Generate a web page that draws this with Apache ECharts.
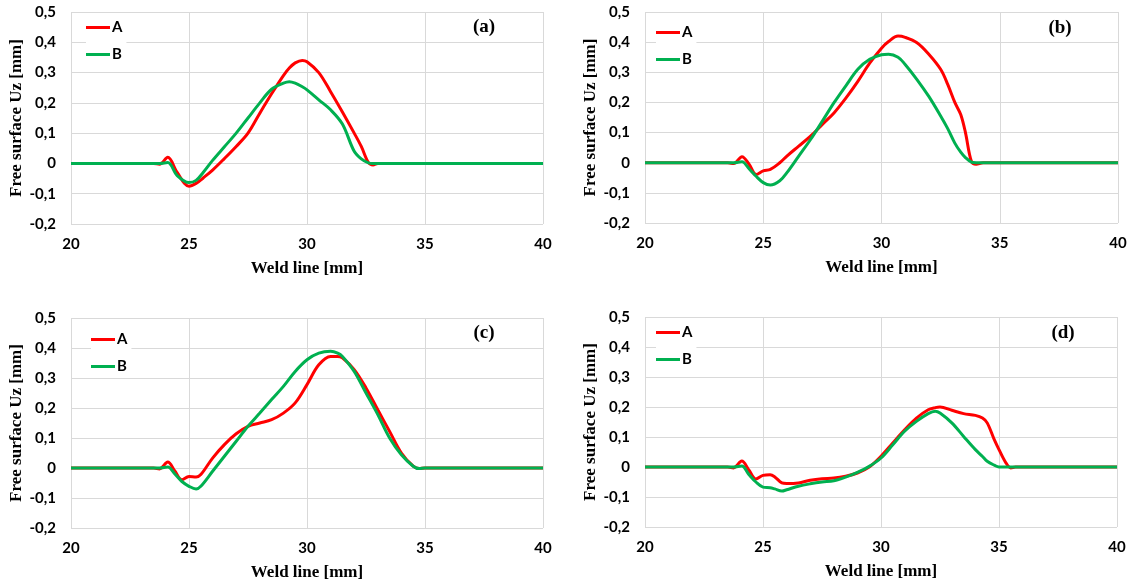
<!DOCTYPE html>
<html>
<head>
<meta charset="utf-8">
<script src="https://cdn.jsdelivr.net/npm/echarts@6/dist/echarts.min.js"></script>
<style>
  html, body { margin: 0; padding: 0; background: #fff; }
  #chart { width: 1135px; height: 584px; }
</style>
</head>
<body>
<div id="chart"></div>
<script>
// x ticks / y ticks
var xTicks = [20, 25, 30, 35, 40];
var yTicks = [-0.2, -0.1, 0, 0.1, 0.2, 0.3, 0.4, 0.5];

// panel (a)
var xA = [20, 23.5, 23.75, 24.1, 24.5, 25, 25.3, 25.6, 26, 26.5, 27, 27.5, 28, 28.5, 29, 29.25, 29.5, 29.8, 30, 30.5, 31, 31.5, 32, 32.3, 32.6, 32.8, 33, 40];
var aA = [0, 0, -0.003, 0.02, -0.03, -0.075, -0.066, -0.048, -0.022, 0.016, 0.056, 0.1, 0.166, 0.23, 0.29, 0.315, 0.332, 0.34, 0.336, 0.3, 0.237, 0.17, 0.1, 0.056, 0.003, -0.005, 0, 0];
var aB = [0, 0, 0, 0.003, -0.04, -0.063, -0.056, -0.03, 0.01, 0.055, 0.1, 0.15, 0.2, 0.245, 0.265, 0.27, 0.265, 0.253, 0.243, 0.21, 0.177, 0.13, 0.04, 0.015, 0.002, 0, 0, 0];

// panel (b)
var xB = [20, 23.5, 23.75, 24.1, 24.4, 24.7, 25, 25.3, 25.7, 26, 26.5, 27, 27.5, 28, 28.5, 29, 29.5, 30, 30.3, 30.7, 31, 31.5, 32, 32.5, 32.8, 33.1, 33.35, 33.55, 33.8, 34, 34.3, 40];
var bA = [0, 0, -0.003, 0.02, -0.005, -0.039, -0.027, -0.022, 0, 0.022, 0.055, 0.088, 0.127, 0.166, 0.215, 0.27, 0.33, 0.38, 0.402, 0.42, 0.416, 0.398, 0.36, 0.31, 0.26, 0.2, 0.16, 0.1, 0.005, -0.005, 0, 0];
var bB = [0, 0, 0, 0.003, -0.02, -0.045, -0.066, -0.074, -0.06, -0.033, 0.022, 0.077, 0.138, 0.2, 0.256, 0.31, 0.343, 0.358, 0.36, 0.35, 0.326, 0.276, 0.22, 0.155, 0.113, 0.065, 0.035, 0.017, 0.002, 0, 0, 0];

// panel (c)
var xC = [20, 23.5, 23.75, 24.1, 24.4, 24.7, 25, 25.3, 25.5, 26, 26.5, 27, 27.5, 28, 28.5, 29, 29.5, 30, 30.5, 31, 31.3, 31.5, 32, 32.5, 33, 33.5, 34, 34.5, 34.75, 35, 40];
var cA = [0, 0, -0.003, 0.02, -0.01, -0.039, -0.028, -0.03, -0.022, 0.033, 0.078, 0.114, 0.139, 0.15, 0.161, 0.183, 0.217, 0.278, 0.344, 0.372, 0.372, 0.367, 0.328, 0.267, 0.194, 0.122, 0.05, 0.006, -0.002, 0, 0];
var cB = [0, 0, 0, 0.003, -0.02, -0.045, -0.061, -0.07, -0.061, -0.011, 0.039, 0.089, 0.139, 0.183, 0.228, 0.272, 0.322, 0.361, 0.383, 0.389, 0.383, 0.372, 0.322, 0.25, 0.178, 0.1, 0.044, 0.006, -0.002, 0, 0];

// panel (d)
var xD = [20, 23.5, 23.75, 24.1, 24.4, 24.7, 25, 25.3, 25.5, 25.8, 26, 26.5, 27, 27.5, 28, 28.5, 29, 29.5, 30, 30.5, 31, 31.5, 32, 32.3, 32.5, 33, 33.5, 34, 34.3, 34.5, 34.8, 35, 35.3, 35.5, 35.7, 40];
var dA = [0, 0, -0.003, 0.02, -0.01, -0.04, -0.028, -0.026, -0.033, -0.053, -0.055, -0.053, -0.044, -0.039, -0.037, -0.031, -0.02, 0, 0.036, 0.08, 0.124, 0.163, 0.191, 0.198, 0.2, 0.189, 0.178, 0.172, 0.163, 0.147, 0.091, 0.058, 0.013, -0.003, 0, 0];
var dB = [0, 0, 0, 0.003, -0.025, -0.05, -0.067, -0.069, -0.073, -0.08, -0.076, -0.064, -0.056, -0.05, -0.046, -0.034, -0.018, 0.002, 0.03, 0.074, 0.119, 0.152, 0.178, 0.186, 0.18, 0.147, 0.102, 0.058, 0.035, 0.019, 0.006, 0, 0, 0, 0, 0];

var panelNames = ['(a)', '(b)', '(c)', '(d)'];
var seriesNames = ['A', 'B'];
var colors = ['#ff0000', '#00b050'];

var panels = [
  { x: xA, a: aA, b: aB, grid: { left: 71, top: 12, width: 472, height: 212 }, leg: [86, 16], lab: [484, 27] },
  { x: xB, a: bA, b: bB, grid: { left: 645, top: 12, width: 473, height: 211 }, leg: [656, 21], lab: [1060, 28] },
  { x: xC, a: cA, b: cB, grid: { left: 71, top: 318, width: 472, height: 210 }, leg: [91, 328], lab: [484, 333] },
  { x: xD, a: dA, b: dB, grid: { left: 645, top: 317, width: 472, height: 210 }, leg: [656, 321], lab: [1063, 333] }
];

function pairs(xs, ys) {
  return xs.map(function (x, i) { return [x, ys[i]]; });
}

function fmtY(v) {
  if (Math.abs(v) < 1e-9) return '0';
  return v.toFixed(1).replace('.', ',');
}

var tickFont = { fontFamily: 'Lato', fontWeight: 'bold', fontSize: 15, color: '#000' };
var nameFont = { fontFamily: 'Liberation Serif', fontWeight: 'bold', fontSize: 17, color: '#000' };
var gridLine = { show: true, lineStyle: { color: '#d9d9d9', width: 1 } };

var option = {
  animation: false,
  backgroundColor: '#fff',
  grid: [], xAxis: [], yAxis: [], series: [], legend: [], graphic: []
};

panels.forEach(function (p, i) {
  option.grid.push(p.grid);
  option.xAxis.push({
    type: 'value', gridIndex: i,
    min: xTicks[0], max: xTicks[xTicks.length - 1], interval: 5,
    name: 'Weld line [mm]', nameLocation: 'middle', nameGap: 36,
    nameTextStyle: nameFont,
    axisLine: { show: false }, axisTick: { show: false },
    axisLabel: Object.assign({ margin: 13 }, tickFont),
    splitLine: gridLine
  });
  option.yAxis.push({
    type: 'value', gridIndex: i,
    min: yTicks[0], max: yTicks[yTicks.length - 1], interval: 0.1,
    name: 'Free surface Uz [mm]', nameLocation: 'middle', nameGap: 46,
    nameTextStyle: nameFont,
    axisLine: { show: false }, axisTick: { show: false },
    axisLabel: Object.assign({ margin: 15, formatter: fmtY }, tickFont),
    splitLine: gridLine
  });
  [p.a, p.b].forEach(function (ys, k) {
    option.series.push({
      name: seriesNames[k], type: 'line',
      xAxisIndex: i, yAxisIndex: i,
      data: pairs(p.x, ys),
      smooth: 0.35, showSymbol: false, symbol: 'none',
      color: colors[k],
      lineStyle: { color: colors[k], width: 3 },
      z: 2 + k
    });
  });
  option.legend.push({
    data: seriesNames, orient: 'vertical',
    left: p.leg[0], top: p.leg[1],
    icon: 'rect', itemWidth: 24, itemHeight: 3, itemGap: 12,
    padding: [4, 4, 4, 0],
    backgroundColor: '#fff',
    textStyle: { fontFamily: 'Lato', fontWeight: 'bold', fontSize: 15, color: '#000', padding: [0, 0, 0, -3] }
  });
  option.graphic.push({
    type: 'text', x: p.lab[0], y: p.lab[1], z: 10,
    style: {
      text: panelNames[i], fill: '#000',
      font: 'bold 19px "Liberation Serif"',
      textAlign: 'center', textVerticalAlign: 'middle'
    }
  });
});

var chart = echarts.init(document.getElementById('chart'), null, { renderer: 'canvas' });
chart.setOption(option);
</script>
</body>
</html>
